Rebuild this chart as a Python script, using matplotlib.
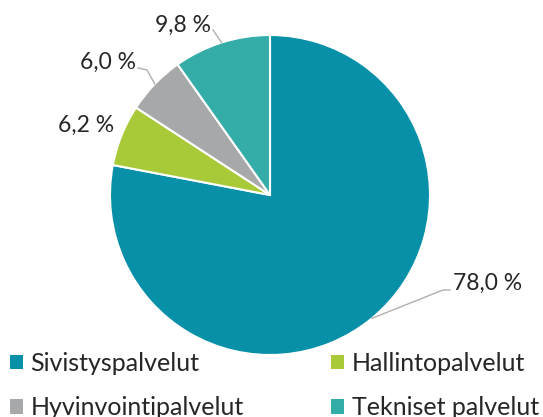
import matplotlib.pyplot as plt
import numpy as np
from matplotlib.patches import Patch

categories = ["Sivistyspalvelut", "Hallintopalvelut", "Hyvinvointipalvelut", "Tekniset palvelut"]
shares = [78.0, 6.2, 6.0, 9.8]
labels = ["78,0 %", "6,2 %", "6,0 %", "9,8 %"]
colors = ["#0790a8", "#a9ca38", "#a7a8aa", "#34ada9"]

plt.rcParams['font.family'] = ['Lato', 'DejaVu Sans']

W, H = 543, 417
fig = plt.figure(figsize=(W / 100, H / 100), dpi=100)
ax = fig.add_axes([0, 0, 1, 1])

cx, cy, r = 270, H - 195, 160
wedges, _ = ax.pie(shares, colors=colors, startangle=90, counterclock=False,
                   center=(cx, cy), radius=r, frame=True,
                   wedgeprops=dict(edgecolor='white', linewidth=1.5))
ax.set_xlim(0, W)
ax.set_ylim(0, H)
ax.set_aspect('equal')
ax.axis('off')

# label placement: (text x, text y in pixels from top, elbow points)
label_pos = [
    (453, 283, [(443, 290), (450, 290)]),
    (58, 125, None),
    (80, 62, [(147, 70), (138, 68)]),
    (155, 25, [(213, 30)]),
]
for w, lab, (tx, ty, elbow) in zip(wedges, labels, label_pos):
    mid = np.deg2rad((w.theta1 + w.theta2) / 2)
    px, py = cx + r * np.cos(mid), cy + r * np.sin(mid)
    if elbow:
        xs = [px] + [e[0] for e in elbow]
        ys = [py] + [H - e[1] for e in elbow]
        ax.plot(xs, ys, color='#b0b0b0', lw=1.0)
    ax.text(tx, H - ty, lab, fontsize=16.5, color='#262626', va='center', ha='left')

# legend is filled row by row in the reference
order = [0, 2, 1, 3]
handles = [Patch(facecolor=colors[i], edgecolor='none') for i in order]
leg = ax.legend(handles, [categories[i] for i in order], loc='upper left',
                bbox_to_anchor=(10 / W, 1 - 352 / H),
                bbox_transform=fig.transFigure, ncol=2, frameon=False, fontsize=18,
                handlelength=0.52, handleheight=0.52, handletextpad=0.3,
                columnspacing=3.5, labelspacing=0.85, borderpad=0, borderaxespad=0)
for t in leg.get_texts():
    t.set_color('#262626')

fig.savefig('out.png', dpi=100)
